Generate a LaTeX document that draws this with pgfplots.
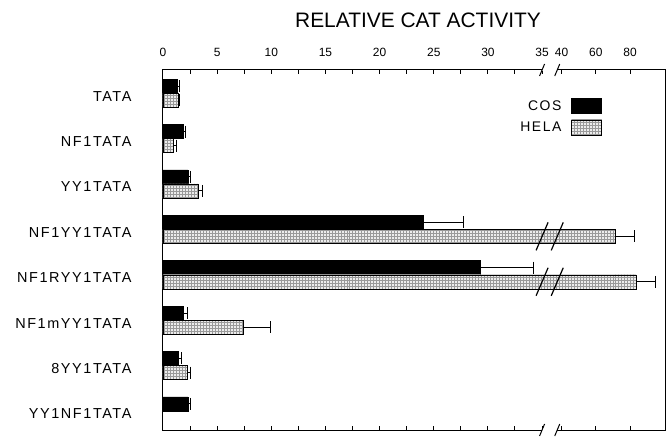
\documentclass[border=0pt]{standalone}
\usepackage{pgfplots}
\pgfplotsset{compat=1.18}
\usepackage{pgfplotstable}
\usepackage{fontspec}
\setmainfont{Liberation Sans}
\newfontfamily\lbl[LetterSpace=11]{Liberation Sans}
\usetikzlibrary{patterns}

\pgfplotsset{mylegend/.style={legend image code/.code={\draw[##1] (0bp,-7.5bp) rectangle (30bp,7.5bp);}}}

% relative CAT activity (real values), one-sided error (plus)
\pgfplotstableread{
y val err
7 1.30 0.20
6 1.85 0.20
5 2.30 0.28
4 24.0 3.7
3 29.3 4.9
2 1.85 0.37
1 1.38 0.37
0 2.30 0.20
}\cosdata
\pgfplotstableread{
y val err
7 1.38 0.10
6 0.92 0.37
5 3.23 0.46
4 71.3 11.6
3 83.5 11.1
2 7.39 2.50
1 2.22 0.28
}\heladata

\begin{document}
\begin{tikzpicture}
\begin{axis}[
  name=ax, scale only axis, width=502bp, height=360bp,
  xmin=0, xmax=46.35, ymin=-0.42, ymax=7.51,
  declare function={brk(\v)=(\v<=35)*\v+(\v>35)*(36.8+(\v-40)*0.158);},
  axis line style={line width=1bp},
  xtick={0,5,10,15,20,25,30,35,36.8,39.96,43.12},
  xticklabels={0,5,10,15,20,25,30,35,40,60,80},
  minor xtick={2.5,7.5,12.5,17.5,22.5,27.5,32.5},
  xtick pos=both, xticklabel pos=upper, tick align=inside,
  major tick length=4bp, minor tick length=4bp,
  tick style={line width=1bp, black},
  xticklabel style={font=\fontsize{12}{14}\selectfont, yshift=10bp},
  ytick={0,1,2,3,4,5,6,7},
  yticklabels={YY1NF1TATA,8YY1TATA,NF1mYY1TATA,NF1RYY1TATA,NF1YY1TATA,YY1TATA,NF1TATA,TATA},
  ytick style={draw=none},
  yticklabel style={font=\lbl\fontsize{14.5}{16}\selectfont, xshift=-28bp, yshift=-3bp},
  title={RELATIVE CAT ACTIVITY},
  title style={font=\fontsize{21}{24}\selectfont, at={(0.5,1)}, anchor=center, yshift=44bp, xshift=4bp},
  legend style={at={(0.8745,0.922)}, anchor=north east, draw=none, fill=none,
    inner sep=0pt, font=\lbl\fontsize{14}{16}\selectfont, row sep=6bp},
  legend plot pos=right, legend cell align=right,
]
\addplot[xbar, bar width=0.31, bar shift=0, fill=black, draw=black, mylegend,
  error bars/.cd, x dir=plus, x explicit, error mark=|,
  error bar style={line width=1bp, black},
  error mark options={line width=1bp, black, mark size=6bp}]
  table[x expr={brk(\thisrow{val})}, y expr={\thisrow{y}+0.155},
        x error expr={brk(\thisrow{val}+\thisrow{err})-brk(\thisrow{val})}] {\cosdata};
\addlegendentry{COS\hspace*{8bp}}
\addplot[xbar, bar width=0.31, bar shift=0, fill=gray!15, draw=black,
  postaction={pattern=grid, pattern color=gray!80}, mylegend,
  error bars/.cd, x dir=plus, x explicit, error mark=|,
  error bar style={line width=1bp, black},
  error mark options={line width=1bp, black, mark size=6bp}]
  table[x expr={brk(\thisrow{val})}, y expr={\thisrow{y}-0.155},
        x error expr={brk(\thisrow{val}+\thisrow{err})-brk(\thisrow{val})}] {\heladata};
\addlegendentry{HELA\hspace*{8bp}}
\coordinate (T1) at (axis cs:35.0,7.51);
\coordinate (T2) at (axis cs:36.4,7.51);
\coordinate (B1) at (axis cs:35.0,-0.42);
\coordinate (B2) at (axis cs:36.4,-0.42);
\coordinate (H1) at (axis cs:35.0,3.845);
\coordinate (H2) at (axis cs:36.4,3.845);
\coordinate (R1) at (axis cs:35.0,2.845);
\coordinate (R2) at (axis cs:36.4,2.845);
\end{axis}
\fill[white] ([yshift=-1.2bp]T1) rectangle ([yshift=1.2bp]T2);
\fill[white] ([yshift=-1.2bp]B1) rectangle ([yshift=1.2bp]B2);
\foreach \c in {T1,T2,B1,B2} {
  \draw[line width=1bp] ([xshift=-2.5bp,yshift=-6bp]\c) -- ([xshift=2.5bp,yshift=6bp]\c);
}
\foreach \c in {H1,H2,R1,R2} {
  \draw[line width=1.2bp] ([xshift=-6bp,yshift=-14bp]\c) -- ([xshift=6bp,yshift=14bp]\c);
}
\pgfresetboundingbox
\path (-163bp,-9bp) rectangle (509bp,430bp);
\end{tikzpicture}
\end{document}
